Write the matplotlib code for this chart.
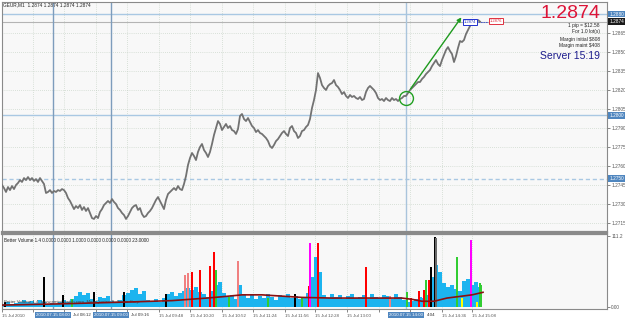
import matplotlib
matplotlib.use("Agg")
import matplotlib.pyplot as plt
import matplotlib.transforms as mtransforms

plt.rcParams['font.family'] = ['Liberation Sans', 'DejaVu Sans']

# Kursdata (M1, hver 2. bar)
bar_step = 2
close = [1.27450, 1.27426, 1.27395, 1.27434, 1.27410, 1.27442, 1.27418, 1.27450, 1.27466, 1.27489,
         1.27474, 1.27505, 1.27489, 1.27513, 1.27489, 1.27505, 1.27482, 1.27497, 1.27474, 1.27505,
         1.27482, 1.27458, 1.27387, 1.27395, 1.27410, 1.27387, 1.27403, 1.27395, 1.27410, 1.27403,
         1.27418, 1.27410, 1.27387, 1.27347, 1.27324, 1.27292, 1.27260, 1.27284, 1.27268, 1.27292,
         1.27253, 1.27276, 1.27245, 1.27268, 1.27229, 1.27189, 1.27182, 1.27205, 1.27189, 1.27237,
         1.27260, 1.27292, 1.27308, 1.27324, 1.27308, 1.27339, 1.27316, 1.27300, 1.27268, 1.27253,
         1.27229, 1.27213, 1.27182, 1.27205, 1.27237, 1.27268, 1.27284, 1.27292, 1.27253, 1.27268,
         1.27221, 1.27197, 1.27205, 1.27229, 1.27245, 1.27268, 1.27300, 1.27332, 1.27355, 1.27324,
         1.27292, 1.27260, 1.27332, 1.27379, 1.27395, 1.27410, 1.27426, 1.27410, 1.27442, 1.27418,
         1.27410, 1.27458, 1.27521, 1.27608, 1.27663, 1.27703, 1.27679, 1.27647, 1.27711, 1.27750,
         1.27774, 1.27726, 1.27703, 1.27671, 1.27711, 1.27774, 1.27845, 1.27900, 1.27955, 1.27932,
         1.27884, 1.27908, 1.27932, 1.27900, 1.27916, 1.27884, 1.27876, 1.27853, 1.27892, 1.27995,
         1.28011, 1.27971, 1.27955, 1.27979, 1.27947, 1.27916, 1.27900, 1.27868, 1.27884, 1.27861,
         1.27853, 1.27837, 1.27821, 1.27797, 1.27758, 1.27742, 1.27766, 1.27797, 1.27813, 1.27837,
         1.27861, 1.27876, 1.27853, 1.27837, 1.27900, 1.27916, 1.27876, 1.27861, 1.27821, 1.27837,
         1.27876, 1.27884, 1.27908, 1.27924, 1.27971, 1.28058, 1.28121, 1.28200, 1.28334, 1.28295,
         1.28239, 1.28216, 1.28200, 1.28232, 1.28247, 1.28255, 1.28279, 1.28239, 1.28224, 1.28200,
         1.28168, 1.28184, 1.28153, 1.28137, 1.28161, 1.28145, 1.28153, 1.28137, 1.28129, 1.28145,
         1.28121, 1.28129, 1.28184, 1.28216, 1.28232, 1.28216, 1.28200, 1.28176, 1.28137, 1.28121,
         1.28129, 1.28113, 1.28137, 1.28121, 1.28113, 1.28137, 1.28121, 1.28129, 1.28113, 1.28129,
         1.28137, 1.28153, 1.28153, 1.28176, 1.28200, 1.28216, 1.28232, 1.28247, 1.28263, 1.28263,
         1.28287, 1.28303, 1.28326, 1.28342, 1.28358, 1.28389, 1.28413, 1.28437, 1.28405, 1.28389,
         1.28437, 1.28476, 1.28516, 1.28539, 1.28508, 1.28484, 1.28421, 1.28468, 1.28532, 1.28587,
         1.28579, 1.28595, 1.28642, 1.28674, 1.28705, 1.28737, 1.28745, 1.28721, 1.28753, 1.28740]
bars = [i * bar_step for i in range(len(close))]
last_price = 1.2874

# Volumen (Better Volume), blå grundsøjler pr. 4 bars
vol_step = 4
vol_base = [5, 8, 5, 6, 8, 11, 8, 9, 6, 11, 8, 5, 6, 5, 8, 11, 8, 12, 17, 23,
            19, 22, 12, 9, 16, 14, 17, 9, 8, 11, 19, 22, 27, 30, 20, 25, 11, 9, 12, 8,
            14, 20, 23, 17, 22, 25, 30, 27, 31, 23, 20, 16, 25, 34, 39, 22, 16, 19, 12, 34,
            20, 14, 19, 12, 17, 14, 20, 16, 11, 19, 16, 20, 14, 17, 12, 16, 22, 47, 78, 55,
            19, 14, 20, 16, 19, 12, 17, 20, 14, 16, 19, 12, 20, 16, 14, 19, 17, 12, 20, 16,
            11, 8, 9, 12, 16, 14, 19, 47, 66, 55, 37, 31, 34, 28, 25, 41, 44, 34, 39, 31]
vol_bars = [i * vol_step for i in range(len(vol_base))]

# Farvede volumen-spidser: (bar, volumen, farve)
spike_bars = [3, 42, 61, 70, 92, 122, 164, 183, 186, 190, 198, 208, 212, 214, 227, 236,
              266, 293, 300, 307, 308, 316, 364, 388, 405, 409, 417, 422, 424, 427, 429,
              433, 434, 455, 460, 469, 475, 478, 479]
spike_vals = [8, 47, 19, 12, 23, 23, 20, 50, 53, 55, 58, 64, 86, 58, 16, 72,
              14, 20, 14, 33, 100, 100, 62, 17, 23, 14, 25, 27, 42, 42, 62,
              109, 108, 78, 14, 105, 8, 37, 34]
spike_cols = ['black', 'black', 'black', 'limegreen', 'black', 'black', 'black', 'lightcoral',
              'lightcoral', 'red', 'red', 'red', 'red', 'limegreen', 'limegreen', 'lightcoral',
              'limegreen', 'black', 'limegreen', 'red', 'magenta', 'red', 'red', 'lightcoral',
              'limegreen', 'red', 'red', 'red', 'limegreen', 'red', 'black',
              'black', 'dimgray', 'limegreen', 'yellow', 'magenta', 'yellow', 'limegreen', 'limegreen']

# Glidende gennemsnit af volumen
ma_bars = [0, 60, 130, 170, 205, 220, 240, 260, 280, 300, 330, 400, 410, 420, 432, 445, 460, 470, 481]
ma_vals = [3, 5, 8, 10, 14, 16, 19, 19, 17, 15, 14, 14, 12, 9, 9, 14, 17, 19, 23]

# Akser
price_ticks = [1.2715, 1.2730, 1.2745, 1.2760, 1.2775, 1.2790, 1.2805, 1.2820, 1.2835, 1.2850, 1.2865]
time_ticks = [0, 31, 62, 94, 125, 157, 188, 220, 251, 283, 313, 345, 377, 408, 440, 470]
time_labels = ['15 Jul 2010', '', '', '', '',
               '15 Jul 09:48', '15 Jul 10:20', '15 Jul 10:52', '15 Jul 11:24', '15 Jul 11:56',
               '15 Jul 12:28', '15 Jul 13:00', '', '', '15 Jul 14:36', '15 Jul 15:08']
# etiketter der delvist skjules af de blå bokse (kun synlig del)
part_labels = ['Jul 08:12', 'Jul 09:16', '4:04']

# Objekter tegnet på kortet
vlines = [51, 109, 404]
vline_labels = ['2010.07.15 08:00', '2010.07.15 09:00', '2010.07.15 14:00']
hlines = [1.2880, 1.2800, 1.2750]
circle_bar, circle_price = 404, 1.28137
arrow_start = (407, 1.28192)
arrow_end = (461, 1.28792)

W, H = 625, 320
fig = plt.figure(figsize=(W / 100, H / 100), dpi=100)
fig.patch.set_facecolor('white')
ax = fig.add_axes([2 / W, 1 - 232 / H, 605 / W, 230 / H])
axv = fig.add_axes([2 / W, 1 - 309 / H, 605 / W, 75 / H], sharex=ax)

for a in (ax, axv):
    a.set_facecolor('#f8f8f8')
    for s in a.spines.values():
        s.set_color('#8a8a8a')
        s.set_linewidth(0.8)
ax.spines['bottom'].set_linewidth(1.6)
axv.spines['top'].set_linewidth(1.6)

ax.set_xlim(0, 605)
ax.set_ylim(1.27079, 1.28895)
axv.set_ylim(-3.1, 114.1)

grid_kw = dict(color='#bccbbc', linestyle=(0, (1, 2)), linewidth=0.5)
for p in price_ticks:
    ax.axhline(p, **grid_kw, zorder=0)
for t in time_ticks:
    ax.axvline(t, **grid_kw, zorder=0)
    axv.axvline(t, **grid_kw, zorder=0)

# linjer
ax.axhline(hlines[0], color='#a9c8e3', lw=1.0, zorder=1)
ax.axhline(last_price, color='#b4b4b4', lw=0.8, zorder=1)
ax.axhline(hlines[1], color='#a9c8e3', lw=1.0, zorder=1)
ax.axhline(hlines[2], color='#a9c8e3', lw=1.0, ls=(0, (3, 2)), zorder=1)
for b, c in zip(vlines, ['#7d9cbc', '#7d9cbc', '#a9c4dc']):
    ax.axvline(b, color=c, lw=1.0, zorder=1)
    axv.axvline(b, color=c, lw=1.0, zorder=1)

# kurs
ax.plot(bars, close, color='#727272', lw=1.3, zorder=3)
ax.plot(circle_bar, circle_price, 'o', mfc='none', mec='#22a022', ms=10, mew=1.0, zorder=4)
ax.annotate('', xy=arrow_end, xytext=arrow_start,
            arrowprops=dict(arrowstyle='-|>', color='#1e9a1e', lw=1.0, mutation_scale=6), zorder=4)

# handelsbokse
ax.plot([476, 486], [last_price, last_price], color='#3a50d0', lw=0.6, ls=(0, (2, 1)))
ax.text(468, last_price, '1.2874', fontsize=3, color='#2030c0', ha='center', va='center',
        bbox=dict(boxstyle='square,pad=0.25', fc='white', ec='#2030d0', lw=0.7))
ax.text(494, last_price + 0.00005, '1.2876', fontsize=3, color='#e03040', ha='center', va='center',
        bbox=dict(boxstyle='square,pad=0.25', fc='white', ec='#e03040', lw=0.7))

# akse-etiketter
ax.yaxis.tick_right()
ax.set_yticks(price_ticks)
ax.set_yticklabels(['%.4f' % p for p in price_ticks], fontsize=3.4, color='#333333')
ax.tick_params(axis='y', length=2, width=0.5, pad=1, colors='#555555')
ax.tick_params(axis='x', bottom=False, labelbottom=False)

ytr = mtransforms.blended_transform_factory(ax.transAxes, ax.transData)
for p, fc in [(1.2880, '#4f86bf'), (last_price, '#1a1a1a'), (1.2800, '#4f86bf'), (1.2750, '#4f86bf')]:
    ax.text(1.004, p, '%.4f' % p, transform=ytr, fontsize=3.4, color='white', ha='left', va='center',
            bbox=dict(boxstyle='square,pad=0.2', fc=fc, ec='none'), clip_on=False)

axv.bar(vol_bars, vol_base, width=vol_step, align='edge', color='#1cb4ef', lw=0, zorder=2)
axv.bar(spike_bars, spike_vals, width=1.3, color=spike_cols, lw=0, zorder=3)
axv.plot(ma_bars, ma_vals, color='#8b0f0f', lw=1.2, zorder=4)

axv.yaxis.tick_right()
axv.set_yticks([0, 111.2])
axv.set_yticklabels(['0.00', '111.2'], fontsize=3.4, color='#333333')
axv.tick_params(axis='y', length=2, width=0.5, pad=1, colors='#555555')
axv.set_xticks(time_ticks)
axv.set_xticklabels(time_labels, fontsize=3.2, color='#333333', ha='left')
axv.tick_params(axis='x', length=2, width=0.5, pad=1.5, colors='#555555')

xtr = axv.get_xaxis_transform()
for b, lab, part in zip(vlines, vline_labels, part_labels):
    t = axv.text(b, -0.075, lab, transform=xtr, fontsize=3.2, color='white', ha='center', va='center',
                 bbox=dict(boxstyle='square,pad=0.25', fc='#4f86bf', ec='none'), clip_on=False, zorder=10)
    axv.annotate(part, xy=(1, 0.5), xycoords=t, xytext=(2.5, 0), textcoords='offset points',
                 fontsize=3.2, color='#333333', ha='left', va='center', annotation_clip=False)

axv.text(0.004, 0.94, 'Better Volume 1.4 0.0000 0.0000 1.0000 0.0000 0.0000 0.0000 23.0000',
         transform=axv.transAxes, fontsize=3.3, color='#222222', va='top')
axv.text(0.004, 0.06, 'Better Volume 1.4  www.emini-watch.com  MetaQuotes Software Corp.',
         transform=axv.transAxes, fontsize=3.2, color='#444444', va='bottom')

# tekst i hovedvinduet
fig.text(3 / W, 1 - 5 / H, 'GEUR,M1  1.2874 1.2874 1.2874 1.2874', fontsize=3.4, color='#222222', va='center')
fig.text(600 / W, 1 - 14 / H, '1.2874', fontsize=14, color='#dc1438', ha='right', va='center')
info = ['1 pip = $12.58', 'For 1.0 lot(s)', 'Margin initial $808', 'Margin maint $408']
for i, s in enumerate(info):
    fig.text(600 / W, 1 - (25 + 7 * i) / H, s, fontsize=3.5, color='#222222', ha='right', va='center')
fig.text(600 / W, 1 - 56 / H, 'Server 15:19', fontsize=7.5, color='#1c1c8c', ha='right', va='center')

fig.savefig('out.png', dpi=100, facecolor='white')
